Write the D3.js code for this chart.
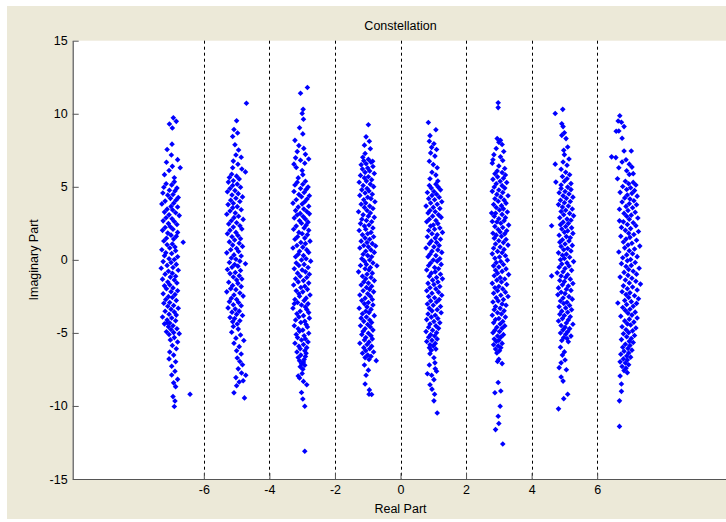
<!DOCTYPE html>
<html>
<head>
<meta charset="utf-8">
<script src="https://cdn.jsdelivr.net/npm/d3@7"></script>
<style>
  html, body { margin: 0; padding: 0; background: #ffffff; }
  svg { display: block; }
  text { font-family: "Liberation Sans", Arial, Helvetica, sans-serif; fill: #000; }
</style>
</head>
<body>
<svg id="chart" width="726" height="522"></svg>
<script>
// ---- Data ----
const chartTitle = "Constellation";
const xLabel = "Real Part";
const yLabel = "Imaginary Part";
const xDomain = [-10, 10];
const yDomain = [-15, 15];
const xTicks = [-6, -4, -2, 0, 2, 4, 6];
const yTicks = [-15, -10, -5, 0, 5, 10, 15];

const colNeg7 = [
[-6.93,9.72],[-7.05,9.3],[-6.84,9.48],[-6.96,9.02],[-6.97,7.92],[-7.12,7.55],[-6.99,7.18],[-6.8,6.86],[-7.14,6.68],[-6.96,6.4],[-7.06,6.12],[-7.2,5.83],[-6.9,5.62],[-6.72,6.3],
[-6.9,5.34],[-7.15,5.21],[-6.98,5.13],[-7.22,4.97],[-6.82,4.91],[-7.05,4.76],[-6.88,4.72],[-7.25,4.58],[-6.94,4.47],[-7.1,4.43],[-6.78,4.26],[-7.02,4.21],[-6.85,4.08],[-7.18,4.02],[-6.92,3.87],[-7.28,3.83],[-7.0,3.66],[-6.8,3.62],[-7.12,3.47],[-6.95,3.41],[-7.2,3.27],[-6.86,3.22],[-7.06,3.08],[-6.75,3.03],[-7.15,2.88],[-6.97,2.81],[-7.24,2.67],[-6.9,2.63],[-7.08,2.48],[-6.82,2.42],[-7.02,2.27],[-7.18,2.21],[-6.94,2.09],[-7.26,2.02],[-6.8,1.88],[-7.1,1.83],[-7.0,1.69],[-6.84,1.61],[-7.14,1.48],[-6.92,1.42],[-7.22,1.29],[-6.63,1.2],[-6.96,1.08],[-7.12,1.03],[-6.88,0.88],[-7.04,0.81],[-7.28,0.69],[-6.86,0.62],[-7.16,0.48],[-6.98,0.43],[-7.2,0.28],[-6.8,0.21],[-7.06,0.08],[-6.9,0.02],[-7.24,-0.12],[-7.0,-0.18],[-6.84,-0.31],[-7.12,-0.38],[-6.94,-0.52],[-7.3,-0.57],[-6.78,-0.71],[-7.08,-0.78],[-6.96,-0.92],[-7.18,-0.98],[-6.86,-1.12],[-7.02,-1.18],[-7.26,-1.32],[-6.9,-1.38],[-7.1,-1.52],[-6.82,-1.58],[-7.04,-1.71],[-7.2,-1.78],[-6.94,-1.92],[-7.14,-1.98],[-6.8,-2.11],[-7.0,-2.18],[-7.24,-2.32],[-6.88,-2.38],[-7.08,-2.52],[-6.96,-2.58],[-7.16,-2.71],[-6.84,-2.78],[-7.04,-2.92],[-7.22,-2.97],[-6.92,-3.12],[-7.1,-3.18],[-6.78,-3.31],[-7.0,-3.38],[-7.18,-3.52],[-6.9,-3.57],[-7.06,-3.72],[-6.84,-3.78],[-7.26,-3.91],[-6.98,-3.98],[-7.12,-4.12],[-6.86,-4.17],[-7.04,-4.32],[-7.2,-4.38],[-6.94,-4.51],[-7.08,-4.58],[-6.82,-4.72],[-7.0,-4.77],[-7.14,-4.92],[-6.92,-4.98],[-7.06,-5.11],
[-6.9,-5.32],[-7.02,-5.48],[-6.8,-5.62],[-6.96,-5.86],[-6.84,-6.08],[-7.04,-6.31],[-6.92,-6.52],[-7.06,-6.78],[-6.86,-6.97],[-6.98,-7.28],[-6.88,-7.62],[-6.98,-7.88],[-6.8,-8.18],[-6.92,-8.42],[-6.86,-8.68],[-6.42,-9.2],[-6.94,-9.36],[-6.88,-9.66],[-6.9,-10.04],[-7.12,-4.3],[-6.75,-5.05]
];

const colNeg5 = [
[-4.7,10.72],[-5.0,9.52],[-5.08,8.92],[-4.97,8.68],[-5.12,8.44],[-5.05,7.88],[-4.94,7.52],[-5.02,7.18],[-4.86,7.02],[-5.1,6.76],[-4.96,6.54],[-4.84,6.22],[-4.73,6.02],[-5.12,6.3],
[-5.15,5.86],[-5.0,5.73],[-5.22,5.64],[-4.92,5.53],[-5.1,5.41],[-5.25,5.32],[-4.98,5.18],[-5.12,5.09],[-4.88,4.97],[-5.2,4.88],[-5.05,4.74],[-5.28,4.66],[-4.95,4.53],[-5.14,4.44],[-4.82,4.31],[-5.02,4.22],[-5.18,4.08],[-4.9,3.99],[-5.1,3.87],[-5.26,3.78],[-4.98,3.64],[-5.12,3.56],[-4.86,3.43],[-5.2,3.34],[-5.04,3.21],[-5.3,3.12],[-4.94,2.98],[-5.08,2.89],[-4.8,2.77],[-5.16,2.68],[-5.0,2.54],[-5.24,2.46],[-4.9,2.33],[-5.1,2.24],[-4.84,2.11],[-5.2,2.02],[-5.02,1.88],[-5.28,1.79],[-4.96,1.67],[-5.14,1.58],[-4.88,1.44],[-5.06,1.36],[-5.22,1.23],[-4.92,1.14],[-5.12,1.01],[-4.82,0.92],[-5.0,0.78],[-5.18,0.69],[-4.94,0.57],[-5.3,0.48],[-5.08,0.34],[-4.86,0.26],[-5.16,0.13],[-5.02,0.04],[-4.9,-0.09],[-5.22,-0.18],[-5.06,-0.32],[-4.73,-0.27],[-4.96,-0.43],[-5.14,-0.51],[-5.28,-0.66],[-4.88,-0.73],[-5.04,-0.87],[-5.2,-0.94],[-4.92,-1.09],[-5.1,-1.17],[-4.84,-1.31],[-5.0,-1.38],[-5.24,-1.53],[-4.96,-1.61],[-5.12,-1.76],[-4.86,-1.83],[-5.18,-1.97],[-5.02,-2.04],[-5.3,-2.19],[-4.9,-2.27],[-5.08,-2.41],[-4.8,-2.48],[-5.16,-2.63],[-5.0,-2.71],[-5.22,-2.86],[-4.94,-2.92],[-5.1,-3.07],[-4.86,-3.14],[-5.26,-3.29],[-5.04,-3.37],[-4.92,-3.51],[-5.14,-3.58],[-5.0,-3.73],[-4.82,-3.81],[-5.2,-3.95],[-5.06,-4.02],[-4.9,-4.17],[-5.12,-4.24],[-4.98,-4.39],
[-5.1,-4.56],[-4.95,-4.74],[-5.15,-4.96],[-4.88,-5.14],[-5.02,-5.36],[-4.78,-5.52],[-5.08,-5.71],[-4.92,-5.94],[-5.0,-6.22],[-4.86,-6.44],[-4.98,-6.72],[-4.9,-6.96],[-4.82,-7.18],[-4.95,-7.46],[-4.85,-7.74],[-5.02,-8.06],[-4.8,-8.28],[-4.92,-8.36],[-5.0,-8.62],[-4.76,-9.45],[-5.08,-9.1],[-4.72,-7.9]
];

const colNeg3 = [
[-2.84,11.8],[-3.05,11.4],[-2.97,10.3],[-3.0,10.02],[-2.96,9.62],[-3.08,9.04],[-2.98,8.62],[-3.22,8.18],[-3.1,7.82],[-2.95,7.63],[-3.15,7.41],[-2.9,7.22],[-3.2,6.98],[-3.05,6.82],[-2.92,6.61],[-3.18,6.32],[-3.0,6.12],[-2.98,5.83],[-3.12,5.61],[-2.8,6.9],[-3.25,6.55],
[-2.9,5.38],[-3.15,5.31],[-2.98,5.17],[-3.22,5.12],[-2.82,4.98],[-3.05,4.88],[-2.88,4.81],[-3.25,4.68],[-2.94,4.61],[-3.1,4.47],[-2.78,4.39],[-3.02,4.32],[-2.85,4.17],[-3.18,4.11],[-2.92,3.98],[-3.28,3.88],[-3.0,3.82],[-2.8,3.67],[-3.12,3.61],[-2.95,3.48],[-3.2,3.37],[-2.86,3.31],[-3.06,3.18],[-2.78,3.15],[-3.15,3.07],[-2.97,2.96],[-3.24,2.87],[-2.9,2.79],[-3.08,2.68],[-2.82,2.58],[-3.02,2.51],[-2.88,2.37],[-3.18,2.31],[-2.94,2.18],[-3.26,2.09],[-2.8,2.02],[-3.1,1.88],[-3.0,1.79],[-2.84,1.71],[-3.14,1.58],[-2.92,1.49],[-3.22,1.41],[-2.76,1.28],[-3.04,1.19],[-2.9,1.11],[-3.16,0.98],[-2.98,0.87],[-3.28,0.81],[-2.86,0.68],[-3.08,0.59],[-2.8,0.51],[-3.12,0.38],[-2.96,0.29],[-3.2,0.21],[-2.88,0.08],[-3.02,-0.01],[-2.74,-0.09],[-3.18,-0.22],[-2.94,-0.31],[-3.1,-0.39],[-2.82,-0.52],[-3.24,-0.61],[-3.0,-0.69],[-2.9,-0.82],[-3.14,-0.91],[-2.78,-0.99],[-3.06,-1.12],[-2.86,-1.21],[-3.2,-1.29],[-2.96,-1.42],[-3.12,-1.51],[-2.8,-1.59],[-3.26,-1.72],[-2.92,-1.81],[-3.04,-1.89],[-2.84,-2.02],[-3.18,-2.11],[-2.98,-2.19],[-3.1,-2.32],[-2.76,-2.41],[-3.08,-2.49],[-2.88,-2.62],[-3.22,-2.71],[-2.94,-2.79],[-3.14,-2.92],[-2.82,-3.01],[-3.24,-3.0],[-3.02,-3.09],[-2.9,-3.22],[-3.28,-3.31],[-2.86,-3.39],[-3.06,-3.52],[-2.8,-3.61],[-3.16,-3.69],[-2.96,-3.82],[-3.1,-3.91],[-2.78,-3.99],[-3.2,-4.12],[-2.92,-4.21],[-3.04,-4.29],[-2.88,-4.42],[-3.24,-4.51],[-2.84,-4.59],[-3.12,-4.72],[-2.98,-4.81],[-3.08,-4.89],[-2.8,-5.02],[-3.18,-5.11],[-2.94,-5.19],[-3.14,-5.32],[-2.9,-5.41],[-3.02,-5.49],[-2.82,-5.62],[-3.22,-5.71],[-2.96,-5.79],[-3.1,-5.92],[-2.86,-6.01],[-3.06,-6.09],[-2.92,-6.22],[-3.16,-6.31],[-2.88,-6.39],[-3.04,-6.52],[-2.9,-6.61],[-3.12,-6.69],[-2.94,-6.82],[-3.08,-6.91],[-2.96,-6.99],[-3.02,-7.12],[-2.92,-7.21],[-3.06,-7.32],[-2.98,-7.48],
[-3.0,-7.78],[-3.08,-8.08],[-2.96,-8.32],[-3.02,-9.08],[-2.98,-9.52],[-2.92,-10.02],[-2.92,-13.1],[-3.12,-7.95],[-2.86,-8.55]
];

const colNeg1 = [
[-0.98,9.25],[-1.05,8.42],[-0.95,8.12],[-1.1,7.85],[-0.92,7.6],[-1.08,7.28],[-1.15,7.02],[-0.98,6.88],[-0.85,6.75],
[-1.12,6.78],[-0.9,6.69],[-1.05,6.58],[-1.2,6.51],[-0.84,6.39],[-1.0,6.28],[-1.16,6.21],[-0.94,6.08],[-1.08,5.99],[-0.8,5.91],[-1.22,5.78],[-0.98,5.69],[-1.1,5.61],[-0.88,5.48],[-1.04,5.39],[-1.26,5.31],[-0.92,5.18],[-1.14,5.09],[-0.82,5.01],[-1.02,4.88],[-1.18,4.79],[-0.96,4.71],[-1.08,4.58],[-0.86,4.49],[-1.24,4.41],[-1.0,4.28],[-0.9,4.19],[-1.12,4.11],[-0.78,3.98],[-1.06,3.89],[-1.2,3.81],[-0.94,3.68],[-1.1,3.59],[-0.84,3.51],[-1.02,3.38],[-1.28,3.29],[-0.92,3.21],[-1.14,3.08],[-0.98,2.99],[-0.8,2.91],[-1.18,2.78],[-1.04,2.69],[-0.88,2.61],[-1.22,2.48],[-0.96,2.39],[-1.1,2.31],[-0.84,2.18],[-1.06,2.09],[-1.26,2.01],[-0.9,1.88],[-1.0,1.79],[-1.16,1.71],[-0.82,1.58],[-1.08,1.49],[-0.94,1.41],[-1.2,1.28],[-1.02,1.19],[-0.86,1.11],[-0.76,0.95],[-1.12,0.98],[-0.98,0.89],[-1.24,0.81],[-0.9,0.68],[-1.06,0.59],[-0.8,0.51],[-1.14,0.38],[-1.0,0.29],[-0.88,0.21],[-1.18,0.08],[-0.94,-0.01],[-1.1,-0.09],[-0.84,-0.22],[-1.04,-0.31],[-0.72,-0.4],[-1.22,-0.39],[-0.92,-0.52],[-1.08,-0.61],[-0.96,-0.69],[-1.28,-0.82],[-0.86,-0.91],[-1.02,-0.99],[-1.16,-1.12],[-0.9,-1.21],[-1.06,-1.29],[-0.8,-1.42],[-1.12,-1.51],[-0.98,-1.59],[-1.2,-1.72],[-0.88,-1.81],[-1.04,-1.89],[-0.94,-2.02],[-1.14,-2.11],[-0.82,-2.19],[-1.0,-2.32],[-1.24,-2.41],[-0.92,-2.49],[-1.08,-2.62],[-0.86,-2.71],[-1.18,-2.79],[-0.98,-2.92],[-1.1,-3.01],[-0.84,-3.09],[-1.02,-3.22],[-1.26,-3.31],[-0.9,-3.39],[-1.06,-3.52],[-0.96,-3.61],[-1.16,-3.69],[-0.8,-3.82],[-1.04,-3.91],[-1.2,-3.99],[-0.94,-4.12],[-1.12,-4.21],[-0.88,-4.29],[-1.0,-4.42],[-1.22,-4.51],[-0.92,-4.59],[-1.08,-4.72],[-0.84,-4.81],[-1.14,-4.89],[-0.98,-5.02],[-1.18,-5.11],[-0.9,-5.19],[-1.06,-5.32],[-0.86,-5.41],[-1.1,-5.49],[-0.96,-5.62],[-1.24,-5.71],[-1.02,-5.79],[-0.88,-5.92],[-1.12,-6.01],[-0.94,-6.09],[-1.06,-6.22],[-0.82,-6.31],[-1.16,-6.39],[-1.0,-6.52],[-0.9,-6.61],[-1.08,-6.69],[-0.96,-6.82],[-0.74,-6.9],
[-1.1,-7.2],[-0.98,-7.55],[-1.05,-7.9],[-1.08,-8.5],[-0.95,-8.9],[-0.96,-9.2],[-0.88,-9.22]
];

const colPos1 = [
[0.85,9.4],[1.08,8.9],[0.9,8.5],[0.88,8.12],[1.02,7.95],[0.95,7.7],[1.1,7.55],[0.92,7.32],[1.05,7.1],[0.88,6.75],[1.0,6.52],[1.12,6.3],[0.96,6.0],[1.08,5.8],[0.9,5.55],[1.14,5.4],
[1.08,5.18],[0.88,5.09],[1.15,4.98],[0.94,4.91],[1.22,4.79],[1.02,4.68],[0.82,4.61],[1.1,4.49],[0.96,4.41],[1.18,4.28],[0.86,4.19],[1.04,4.11],[1.26,3.98],[0.92,3.89],[1.12,3.81],[0.78,3.68],[1.0,3.59],[1.2,3.51],[0.9,3.38],[1.06,3.29],[0.84,3.21],[1.16,3.08],[0.98,2.99],[1.24,2.91],[0.88,2.78],[1.08,2.69],[0.8,2.61],[1.14,2.48],[1.0,2.39],[0.92,2.31],[1.2,2.18],[1.04,2.09],[0.86,2.01],[1.28,1.88],[0.96,1.79],[1.12,1.71],[0.82,1.58],[1.06,1.49],[1.22,1.41],[0.94,1.28],[1.1,1.19],[0.88,1.11],[1.18,0.98],[1.02,0.89],[0.78,0.81],[1.14,0.68],[0.96,0.59],[1.26,0.51],[0.9,0.38],[1.08,0.29],[0.84,0.21],[1.2,0.08],[1.0,-0.01],[1.12,-0.09],[0.92,-0.22],[1.24,-0.31],[0.86,-0.39],[1.04,-0.52],[1.16,-0.61],[0.8,-0.69],[1.06,-0.82],[0.94,-0.91],[1.22,-0.99],[0.88,-1.12],[1.1,-1.21],[1.28,-1.3],[0.98,-1.39],[1.14,-1.52],[0.84,-1.61],[1.02,-1.69],[1.2,-1.82],[0.9,-1.91],[1.08,-1.99],[0.8,-2.12],[1.16,-2.21],[0.96,-2.29],[1.26,-2.42],[0.86,-2.51],[1.04,-2.59],[1.18,-2.72],[0.92,-2.81],[1.1,-2.89],[0.82,-3.02],[1.0,-3.11],[1.22,-3.19],[0.88,-3.32],[1.12,-3.41],[0.96,-3.49],[1.24,-3.62],[0.84,-3.71],[1.06,-3.79],[0.94,-3.92],[1.14,-4.01],[0.8,-4.09],[1.02,-4.22],[1.2,-4.31],[0.9,-4.39],[1.08,-4.52],[0.86,-4.61],[1.16,-4.69],[0.98,-4.82],[0.78,-4.91],[1.1,-4.99],[0.92,-5.12],[1.04,-5.21],[0.86,-5.29],[1.12,-5.42],[0.96,-5.51],[0.8,-5.59],[1.06,-5.72],[0.9,-5.81],[1.0,-5.89],[0.88,-6.02],[1.08,-6.11],[0.94,-6.19],
[0.9,-6.42],[1.02,-6.7],[1.05,-7.05],[0.88,-7.2],[1.06,-7.45],[1.1,-7.62],[0.95,-7.9],[1.02,-8.2],[0.9,-8.55],[0.96,-8.85],[1.04,-9.2],[1.02,-9.65],[1.12,-10.48],[0.82,-7.8]
];

const colPos3 = [
[2.98,10.75],[2.98,10.42],[2.95,8.3],[3.05,8.18],[3.0,8.05],[3.1,7.9],[2.92,7.62],[3.15,7.42],[2.85,7.2],[3.05,7.05],[2.82,6.85],[3.12,6.8],[2.8,6.62],[3.0,6.42],[3.18,6.25],[2.95,6.08],
[3.1,5.98],[2.88,5.89],[3.2,5.81],[2.96,5.68],[3.14,5.59],[2.82,5.51],[3.04,5.38],[3.24,5.29],[2.92,5.21],[3.1,5.08],[2.86,4.99],[3.18,4.91],[3.0,4.78],[2.8,4.69],[3.12,4.61],[2.94,4.48],[3.28,4.39],[3.06,4.31],[2.88,4.18],[3.16,4.09],[2.98,4.01],[3.22,3.88],[2.84,3.79],[3.08,3.71],[2.92,3.58],[3.14,3.49],[2.78,3.2],[3.02,3.41],[3.26,3.28],[2.9,3.19],[3.1,3.11],[2.86,2.98],[3.2,2.89],[3.0,2.81],[2.8,2.62],[3.16,2.68],[2.94,2.59],[3.06,2.51],[3.3,2.38],[2.88,2.29],[3.12,2.21],[2.98,2.08],[3.24,1.99],[2.82,1.82],[3.04,1.91],[3.18,1.78],[2.92,1.69],[3.08,1.61],[2.86,1.48],[3.22,1.39],[3.0,1.31],[3.14,1.18],[2.9,1.09],[3.28,1.01],[3.04,0.88],[2.84,0.79],[3.16,0.71],[2.96,0.58],[3.1,0.49],[2.8,0.41],[3.2,0.28],[3.02,0.19],[2.88,0.11],[3.26,-0.02],[3.06,-0.11],[2.92,-0.19],[3.14,-0.32],[2.84,-0.41],[3.0,-0.49],[3.22,-0.62],[2.9,-0.71],[3.1,-0.79],[2.96,-0.92],[3.3,-1.01],[2.86,-1.09],[3.04,-1.22],[3.18,-1.31],[2.94,-1.39],[3.08,-1.52],[2.8,-1.61],[3.24,-1.69],[3.0,-1.82],[2.88,-1.91],[3.12,-1.99],[2.96,-2.12],[3.2,-2.21],[2.84,-2.29],[3.06,-2.42],[3.28,-2.51],[2.92,-2.59],[3.14,-2.72],[2.98,-2.81],[2.82,-2.89],[3.1,-3.02],[3.22,-3.11],[2.9,-3.19],[3.04,-3.32],[2.86,-3.41],[3.16,-3.49],[2.96,-3.62],[3.08,-3.71],[2.8,-3.79],[3.2,-3.92],[3.0,-4.01],[2.9,-4.09],[3.12,-4.22],[2.84,-4.31],[3.04,-4.39],[3.18,-4.52],[2.94,-4.61],[3.1,-4.69],[2.88,-4.82],[3.02,-4.91],[2.82,-4.99],[3.14,-5.12],[2.96,-5.21],[3.06,-5.29],[2.86,-5.42],[3.0,-5.51],[2.92,-5.59],[3.1,-5.72],[2.84,-5.81],[2.98,-5.89],[3.06,-6.02],[2.9,-6.11],[3.02,-6.22],[2.94,-6.38],
[3.0,-6.8],[2.96,-6.95],[3.1,-7.1],[2.98,-8.4],[2.88,-9.1],[3.06,-8.98],[3.04,-10.02],[2.98,-10.7],[3.0,-11.2],[2.9,-11.62],[3.12,-12.6]
];

const colPos5 = [
[4.95,10.3],[4.72,10.02],[4.92,9.32],[4.96,9.12],[5.0,8.7],[4.92,8.52],[5.05,8.3],[5.1,7.72],[4.98,7.5],[5.0,7.2],[5.14,6.9],[4.96,6.7],[5.08,6.48],[4.9,6.2],[5.04,6.0],[4.72,6.55],[5.16,5.82],[4.94,5.7],[5.08,5.55],[4.74,5.32],[5.0,5.38],[5.2,5.22],[4.9,5.12],
[5.1,4.98],[4.9,4.89],[5.2,4.81],[5.02,4.68],[4.84,4.59],[5.14,4.51],[4.96,4.38],[5.26,4.29],[5.06,4.21],[4.88,4.08],[5.18,3.99],[5.0,3.91],[4.82,3.78],[5.12,3.69],[4.94,3.61],[5.24,3.48],[5.04,3.39],[4.9,3.31],[5.16,3.18],[4.98,3.09],[5.28,3.01],[4.86,2.88],[5.08,2.79],[5.2,2.71],[4.96,2.58],[4.61,2.33],[5.12,2.49],[4.88,2.41],[5.04,2.28],[5.22,2.19],[4.92,2.11],[5.1,1.98],[5.0,1.89],[5.26,1.81],[4.84,1.68],[5.06,1.59],[5.18,1.51],[4.94,1.38],[5.14,1.29],[4.86,1.21],[5.02,1.08],[5.24,0.99],[4.9,0.91],[5.1,0.78],[4.98,0.69],[5.2,0.61],[4.82,0.48],[5.06,0.39],[4.94,0.31],[5.16,0.18],[5.0,0.09],[4.88,0.01],[5.28,-0.12],[5.08,-0.21],[4.92,-0.29],[5.14,-0.42],[4.84,-0.51],[5.02,-0.59],[5.22,-0.72],[4.96,-0.81],[4.78,-0.89],[5.1,-1.02],[4.61,-1.1],[4.9,-1.11],[5.04,-1.19],[5.18,-1.32],[4.86,-1.41],[5.0,-1.49],[5.26,-1.62],[4.94,-1.71],[5.12,-1.79],[4.82,-1.92],[5.06,-2.01],[5.2,-2.09],[4.9,-2.22],[5.02,-2.31],[4.8,-2.39],[5.14,-2.52],[4.96,-2.61],[5.24,-2.69],[4.88,-2.82],[5.08,-2.91],[4.98,-2.99],[5.16,-3.12],[4.84,-3.21],[5.04,-3.29],[5.22,-3.42],[4.92,-3.51],[5.1,-3.59],[4.86,-3.72],[5.0,-3.81],[5.18,-3.89],[4.94,-4.02],[5.12,-4.11],[4.82,-4.19],[5.06,-4.32],[5.26,-4.41],[4.9,-4.49],[5.02,-4.62],[5.16,-4.71],[4.96,-4.79],[5.1,-4.92],[4.88,-5.01],[5.04,-5.09],[5.2,-5.22],[4.98,-5.31],[5.08,-5.39],[4.92,-5.52],[5.12,-5.61],
[4.88,-5.98],[5.0,-6.3],[4.94,-6.52],[4.84,-7.38],[5.06,-7.52],[4.9,-8.02],[4.96,-8.3],[5.1,-9.2],[4.98,-9.5],[4.82,-10.2],[5.02,-6.85],[4.9,-7.05]
];

const colPos7 = [
[6.69,9.86],[6.64,9.5],[6.74,9.42],[6.82,9.12],[6.58,8.8],[6.66,8.82],[6.76,8.32],[6.82,7.45],[7.04,7.45],[6.44,7.05],[6.57,7.0],[6.88,6.85],[6.76,6.7],[6.98,6.55],[7.06,6.35],[6.66,6.3],[6.9,6.1],[7.1,5.9],[6.98,5.85],[6.62,5.55],
[6.86,5.38],[7.1,5.3],[6.96,5.21],[7.18,5.12],[6.78,5.02],[7.02,4.94],[6.9,4.82],[7.14,4.74],[6.7,4.62],[7.06,4.55],[6.92,4.44],[7.22,4.36],[6.84,4.24],[7.0,4.16],[7.12,4.05],[6.76,3.96],[6.98,3.84],[7.2,3.77],[6.88,3.66],[7.08,3.57],[6.68,3.46],[6.94,3.38],[7.16,3.26],[6.82,3.18],[7.04,3.06],[6.9,2.98],[6.68,2.67],[7.24,2.86],[6.98,2.78],[6.8,2.6],[7.1,2.54],[6.92,2.42],[7.18,2.34],[6.74,2.22],[7.02,2.14],[6.86,2.02],[7.26,1.94],[6.96,1.82],[7.12,1.74],[6.72,1.62],[7.0,1.54],[6.88,1.42],[7.2,1.34],[6.8,1.22],[7.06,1.14],[6.94,1.02],[7.3,0.94],[6.84,0.82],[7.14,0.74],[6.98,0.62],[6.66,0.54],[7.08,0.42],[6.9,0.34],[7.22,0.22],[6.78,0.14],[7.02,0.02],[6.92,-0.06],[7.16,-0.18],[6.74,-0.26],[7.04,-0.38],[6.88,-0.46],[7.28,-0.58],[6.96,-0.66],[7.1,-0.78],[6.82,-0.86],[7.2,-0.98],[6.94,-1.06],[6.7,-1.18],[7.06,-1.26],[6.86,-1.38],[7.18,-1.46],[6.98,-1.58],[7.32,-1.66],[6.8,-1.78],[7.08,-1.86],[6.92,-1.98],[7.22,-2.06],[6.76,-2.18],[7.0,-2.26],[6.88,-2.38],[7.14,-2.46],[6.96,-2.58],[7.26,-2.66],[6.84,-2.78],[6.63,-2.95],[7.04,-2.86],[7.2,-2.98],[6.9,-3.06],[7.1,-3.18],[6.78,-3.26],[7.0,-3.38],[6.86,-3.46],[7.16,-3.58],[6.94,-3.66],[7.06,-3.78],[6.72,-3.86],[7.22,-3.98],[6.98,-4.06],[6.84,-4.18],[7.12,-4.26],[6.92,-4.38],[7.02,-4.46],[6.76,-4.58],[7.18,-4.66],[6.88,-4.78],[7.08,-4.86],[6.96,-4.98],[6.8,-5.06],[7.14,-5.18],[6.9,-5.26],[7.04,-5.38],[6.74,-5.46],[6.98,-5.58],[7.1,-5.66],[6.86,-5.78],[7.0,-5.86],[6.78,-5.98],[6.94,-6.06],[7.06,-6.18],[6.82,-6.26],[6.96,-6.38],[6.72,-6.46],[6.9,-6.58],[7.02,-6.66],[6.8,-6.78],[6.92,-6.86],[6.7,-6.98],[6.86,-7.06],[6.96,-7.18],[6.76,-7.3],[6.88,-7.42],[6.82,-7.58],[6.92,-7.72],
[6.7,-7.95],[6.74,-8.5],[6.74,-9.0],[6.68,-9.65],[6.68,-11.4]
];

const columns = [colNeg7, colNeg5, colNeg3, colNeg1, colPos1, colPos3, colPos5, colPos7];

// ---- Drawing ----
const W = 726, H = 522;
const plot = { left: 72.7, right: 728.3, top: 40.7, bottom: 479 };

const svg = d3.select("#chart");

// figure background (beige panel inside a thin white border)
svg.append("rect").attr("x", 7).attr("y", 6).attr("width", W - 7).attr("height", 513)
  .attr("fill", "#ece9d8");

const x = d3.scaleLinear().domain(xDomain).range([plot.left, plot.right]);
const y = d3.scaleLinear().domain(yDomain).range([plot.bottom, plot.top]);

// axes area
svg.append("rect")
  .attr("x", plot.left).attr("y", plot.top)
  .attr("width", plot.right - plot.left).attr("height", plot.bottom - plot.top)
  .attr("fill", "#ffffff");

// dotted vertical grid lines
svg.append("g").selectAll("line").data(xTicks).join("line")
  .attr("x1", d => Math.round(x(d)) + 0.5).attr("x2", d => Math.round(x(d)) + 0.5)
  .attr("y1", plot.top).attr("y2", plot.bottom)
  .attr("stroke", "#000").attr("stroke-width", 1)
  .attr("stroke-dasharray", "3,3");

// points
const allPoints = columns.flat();
const sym = d3.symbol().type(d3.symbolDiamond2).size(20);
svg.append("g").selectAll("path").data(allPoints).join("path")
  .attr("transform", d => `translate(${x(d[0]).toFixed(2)},${y(d[1]).toFixed(2)})`)
  .attr("d", sym)
  .attr("fill", "#0000ff");

// axes (plain hyphen-minus labels, as in the reference)
const fmt = d => String(d);
const axisColor = "#555555";
const yAxis = d3.axisLeft(y).tickValues(yTicks).tickFormat(fmt).tickSizeInner(-6).tickSizeOuter(0).tickPadding(5);
const gy = svg.append("g").attr("transform", `translate(${plot.left},0)`).call(yAxis);
const xAxis = d3.axisBottom(x).tickValues(xTicks).tickFormat(fmt).tickSizeInner(-6).tickSizeOuter(0).tickPadding(6);
const gx = svg.append("g").attr("transform", `translate(0,${plot.bottom})`).call(xAxis);

[gx, gy].forEach(g => {
  g.select(".domain").attr("stroke", axisColor).attr("stroke-width", 1.2);
  g.selectAll(".tick line").attr("stroke", axisColor);
  g.selectAll(".tick text")
    .attr("font-family", '"Liberation Sans", Arial, sans-serif')
    .attr("font-size", 12.5).attr("fill", "#000");
});

// titles
svg.append("text").attr("x", (plot.left + plot.right) / 2).attr("y", 29.5)
  .attr("text-anchor", "middle").attr("font-size", 12.5).text(chartTitle);
svg.append("text").attr("x", (plot.left + plot.right) / 2).attr("y", 513)
  .attr("text-anchor", "middle").attr("font-size", 12.5).text(xLabel);
svg.append("text")
  .attr("transform", `translate(38,${y(0)}) rotate(-90)`)
  .attr("text-anchor", "middle").attr("font-size", 12.5).text(yLabel);
</script>
</body>
</html>
